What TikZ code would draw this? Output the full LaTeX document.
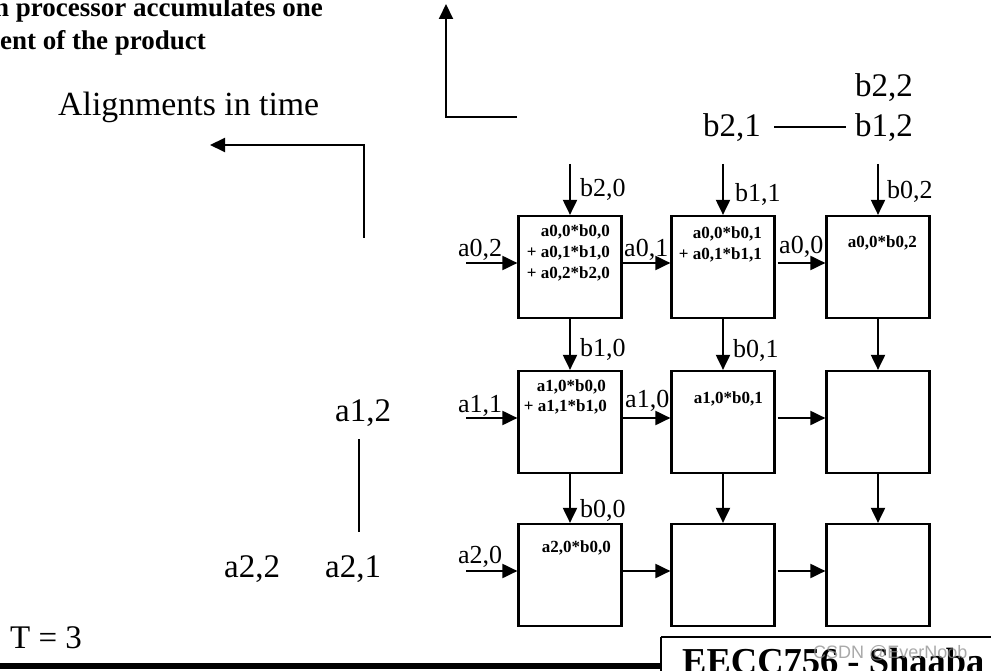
\documentclass[tikz,border=0pt]{standalone}
\usepackage{fontspec}
\setmainfont{Liberation Serif}
\newfontfamily\wmfont{Liberation Sans}
\usetikzlibrary{arrows.meta}
\newcommand\fbig{\fontsize{33}{40}\selectfont}
\newcommand\falign{\fontsize{33.8}{40}\selectfont}
\newcommand\fmid{\fontsize{26}{31}\selectfont}
\newcommand\facc{\fontsize{17}{21}\selectfont\bfseries}
\newcommand\ftop{\fontsize{27}{32}\selectfont\bfseries}
\newcommand\fees{\fontsize{36.5}{44}\selectfont\bfseries}
\begin{document}
\begin{tikzpicture}[x=1pt,y=-1pt,
  pe/.style={draw,line width=2.2pt,minimum width=103pt,minimum height=102pt,inner sep=0pt},
  arr/.style={line width=2pt,-{Triangle[length=15pt,width=14pt]}},
  plain/.style={line width=2pt},
  big/.style={font=\fbig,inner sep=0pt,anchor=base west},
  mid/.style={font=\fmid,inner sep=0pt,anchor=base west},
  acc/.style={font=\facc,inner sep=0pt,anchor=base east},
  toptext/.style={font=\ftop,inner sep=0pt,anchor=base west}]
\useasboundingbox (0,0) rectangle (991,671);

% processing elements
\node[pe] (b00) at (570,267) {};
\node[pe] (b01) at (723,267) {};
\node[pe] (b02) at (878,267) {};
\node[pe] (b10) at (570,422) {};
\node[pe] (b11) at (723,422) {};
\node[pe] (b12) at (878,422) {};
\node[pe] (b20) at (570,575) {};
\node[pe] (b21) at (723,575) {};
\node[pe] (b22) at (878,575) {};

% input coordinates
\coordinate (t0) at (570,164);
\coordinate (t1) at (723,164);
\coordinate (t2) at (878,164);
\coordinate (l0) at (466,263);
\coordinate (l1) at (466,418);
\coordinate (l2) at (466,571);

% vertical arrows
\draw[arr] (t0) -- (b00.north);
\draw[arr] (t1) -- (b01.north);
\draw[arr] (t2) -- (b02.north);
\draw[arr] (b00.south) -- (b10.north);
\draw[arr] (b01.south) -- (b11.north);
\draw[arr] (b02.south) -- (b12.north);
\draw[arr] (b10.south) -- (b20.north);
\draw[arr] (b11.south) -- (b21.north);
\draw[arr] (b12.south) -- (b22.north);

% horizontal arrows
\draw[arr] (l0) -- (b00.west |- l0);
\draw[arr] (b00.east |- l0) -- (b01.west |- l0);
\draw[arr,shorten <=2pt] (b01.east |- l0) -- (b02.west |- l0);
\draw[arr] (l1) -- (b10.west |- l1);
\draw[arr] (b10.east |- l1) -- (b11.west |- l1);
\draw[arr,shorten <=2pt] (b11.east |- l1) -- (b12.west |- l1);
\draw[arr] (l2) -- (b20.west |- l2);
\draw[arr] (b20.east |- l2) -- (b21.west |- l2);
\draw[arr,shorten <=2pt] (b21.east |- l2) -- (b22.west |- l2);

% b labels
\node[mid] (lb20) at (580,197) {b2,0};
\node[mid] (lb11) at (735,202) {b1,1};
\node[mid] (lb02) at (887,199) {b0,2};
\node[mid] (lb10) at (580,356) {b1,0};
\node[mid] (lb01) at (733,357) {b0,1};
\node[mid] (lb00) at (580,517) {b0,0};
% a labels
\node[mid] (la02) at (458,257) {a0,2};
\node[mid] (la01) at (624,257) {a0,1};
\node[mid] (la00) at (779,254) {a0,0};
\node[mid] (la11) at (458,412) {a1,1};
\node[mid] (la10) at (625,407) {a1,0};
\node[mid] (la20) at (458,563) {a2,0};

% accumulated sums
\node[acc] (s00a) at (610,237) {a0,0*b0,0};
\node[acc] (s00b) at (610,258) {+ a0,1*b1,0};
\node[acc] (s00c) at (610,279) {+ a0,2*b2,0};
\node[acc] (s01a) at (762,239) {a0,0*b0,1};
\node[acc] (s01b) at (762,259) {+ a0,1*b1,1};
\node[acc] (s02a) at (917,248) {a0,0*b0,2};
\node[acc] (s10a) at (606,391) {a1,0*b0,0};
\node[acc] (s10b) at (607,411) {+ a1,1*b1,0};
\node[acc] (s11a) at (763,403) {a1,0*b0,1};
\node[acc] (s20a) at (611,552) {a2,0*b0,0};

% waiting b elements
\node[big] (wb22) at (855,97) {b2,2};
\node[big] (wb21) at (703,137) {b2,1};
\node[big] (wb12) at (855,137) {b1,2};
\coordinate (wl1) at (774,127);
\coordinate (wl2) at (846,127);
\draw[plain] (wl1) -- (wl2);

% waiting a elements
\node[big] (wa12) at (335,421) {a1,2};
\node[big] (wa22) at (224,577) {a2,2};
\node[big] (wa21) at (325,577) {a2,1};
\coordinate (va1) at (359,439);
\coordinate (va2) at (359,532);
\draw[plain] (va1) -- (va2);

% alignment arrows
\node[big,font=\falign] (align) at (58,116) {Alignments in time};
\coordinate (ua) at (517,117);
\coordinate (ub) at (446,117);
\coordinate (uc) at (446,4);
\draw[arr] (ua) -- (ub) -- (uc);
\coordinate (la) at (364,238);
\coordinate (lb) at (364,145);
\coordinate (lc) at (210,145);
\draw[arr] (la) -- (lb) -- (lc);

% top text
\node[toptext] (tt1) at (-6,17) {n processor accumulates one};
\node[toptext] (tt2) at (0,50) {ent of the product};

% time
\node[big] (time) at (10,648) {T = 3};

% footer
\draw[line width=6pt] (0,666) -- (661,666);
\draw[line width=2.5pt] (661,637) -- (1000,637);
\draw[line width=2.5pt] (661,637) -- (661,700);
\node[font=\fees,inner sep=0pt,anchor=base west] (foot) at (682,673) {EECC756 - Shaaba};
\node[font=\wmfont\fontsize{18}{20}\selectfont,text={rgb,255:red,140;green,140;blue,140},text opacity=0.75,inner sep=0pt,anchor=base west] (wm) at (813,658) {CSDN @EverNoob};
\end{tikzpicture}
\end{document}
